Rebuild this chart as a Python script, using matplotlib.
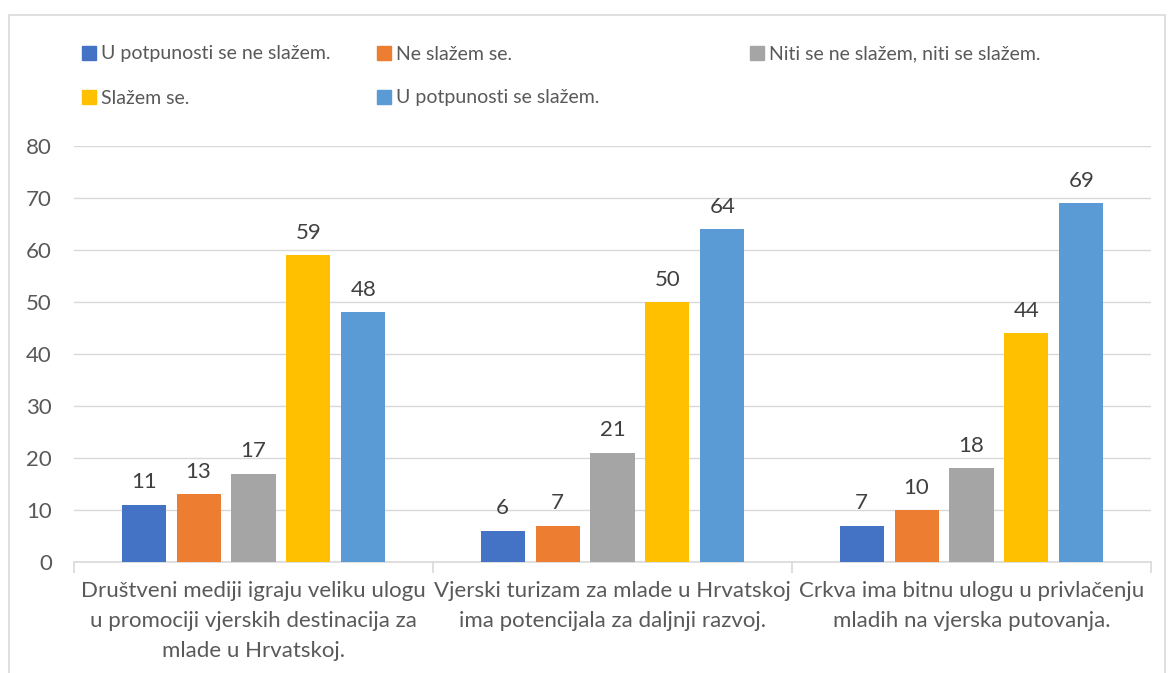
import matplotlib.pyplot as plt
import matplotlib.patches as mpatches
import numpy as np

# --- data ---
categories = [
    "Društveni mediji igraju veliku ulogu\nu promociji vjerskih destinacija za\nmlade u Hrvatskoj.",
    "Vjerski turizam za mlade u Hrvatskoj\nima potencijala za daljnji razvoj.",
    "Crkva ima bitnu ulogu u privlačenju\nmladih na vjerska putovanja.",
]
series = [
    "U potpunosti se ne slažem.",
    "Ne slažem se.",
    "Niti se ne slažem, niti se slažem.",
    "Slažem se.",
    "U potpunosti se slažem.",
]
values = [
    [11, 6, 7],
    [13, 7, 10],
    [17, 21, 18],
    [59, 50, 44],
    [48, 64, 69],
]
colors = ["#4472C4", "#ED7D31", "#A5A5A5", "#FFC000", "#5B9BD5"]

plt.rcParams['font.family'] = ['Lato', 'DejaVu Sans']
txt = "#595959"

fig = plt.figure(figsize=(11.68, 6.73), dpi=100)
ax = fig.add_axes([74/1168, 1-562/673, (1151-74)/1168, (562-146)/673])

x = np.arange(len(categories))
step = 0.153
width = 0.1226
for i, (name, vals) in enumerate(zip(series, values)):
    pos = x + (i - 2) * step
    bars = ax.bar(pos, vals, width, color=colors[i], label=name, zorder=3)
    for b, v in zip(bars, vals):
        ax.annotate(str(v), (b.get_x() + b.get_width()/2, v), xytext=(0, 9),
                    textcoords="offset points", ha="center", va="bottom",
                    fontsize=16, color="#404040")

ax.set_xlim(-0.5, 2.5)
ax.set_ylim(0, 80)
ax.set_yticks(range(0, 81, 10))
ax.grid(axis="y", color="#d9d9d9", linewidth=1, zorder=0)
for s in ["top", "right", "left"]:
    ax.spines[s].set_visible(False)
ax.spines["bottom"].set_color("#d9d9d9")
ax.spines["bottom"].set_linewidth(1.2)
ax.tick_params(axis="y", length=0, labelsize=16, labelcolor=txt, pad=16)
ax.set_xticks(x)
ax.set_xticklabels(categories, fontsize=16, color=txt, linespacing=1.6)
ax.tick_params(axis="x", length=0, pad=14)
ax.set_xticks([-0.5, 0.5, 1.5, 2.5], minor=True)
ax.tick_params(axis="x", which="minor", length=8, color="#d9d9d9", width=1.2)

# legend entries placed like Excel's grid
leg_pos = [(82, 54), (377, 54), (750, 54), (82, 98), (377, 98)]
handles = [mpatches.Patch(color=c) for c in colors]
for h, name, (px, py) in zip(handles, series, leg_pos):
    lg = fig.legend([h], [name], loc="center left",
                    bbox_to_anchor=(px/1168, 1-py/673), frameon=False,
                    fontsize=14, handlelength=0.7, handleheight=0.7,
                    handletextpad=0.3, borderpad=0, borderaxespad=0)
    for t in lg.get_texts():
        t.set_color(txt)

# chart border
fig.patches.append(mpatches.Rectangle((9/1168, -0.01), (1165-9)/1168, 1.01-15/673,
                                      transform=fig.transFigure, fill=False,
                                      edgecolor="#d9d9d9", linewidth=1.2))

fig.savefig("out.png", dpi=100)
